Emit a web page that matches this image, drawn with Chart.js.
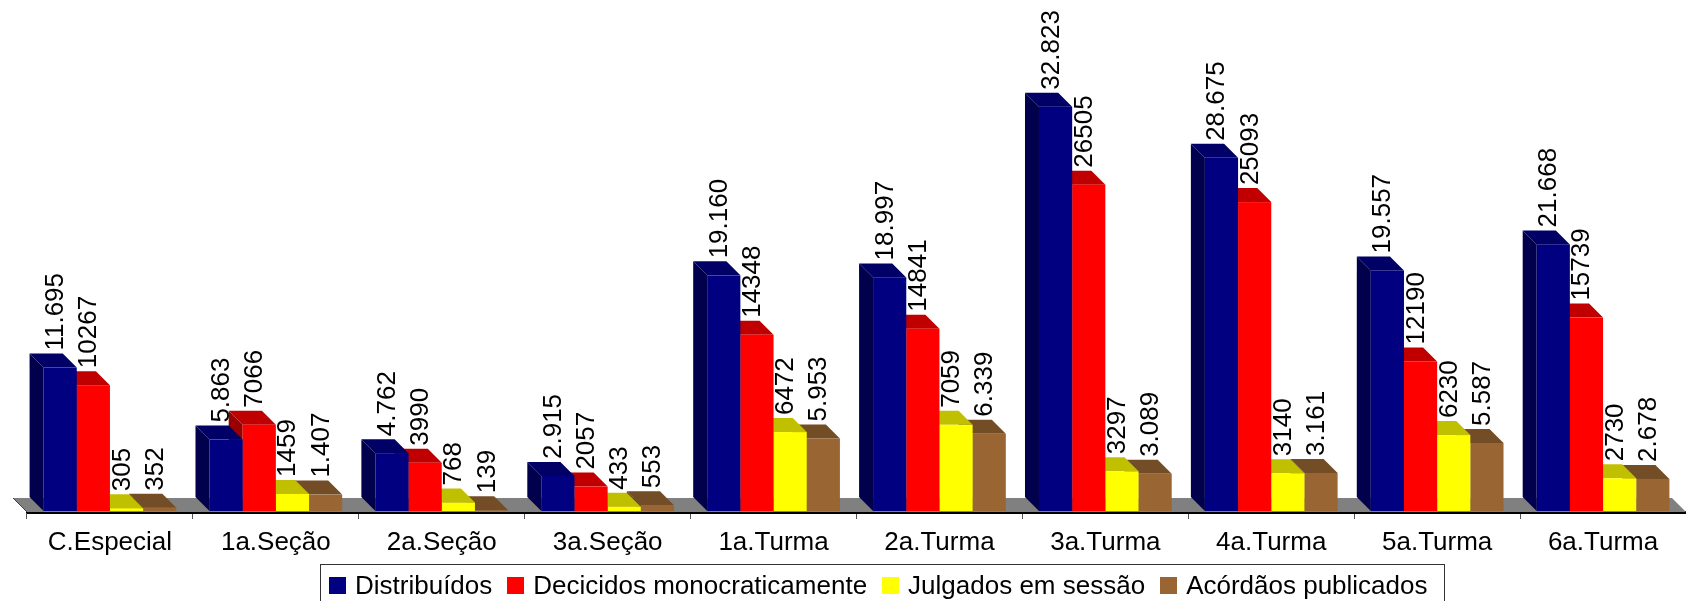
<!DOCTYPE html>
<html>
<head>
<meta charset="utf-8">
<script src="https://cdn.jsdelivr.net/npm/chart.js@4.4.1/dist/chart.umd.min.js"></script>
<style>
    body { margin: 0; background: #fff; }
    #wrap { position: relative; width: 1686px; height: 601px; overflow: hidden; }
    #legend {
        position: absolute; left: 320px; top: 564px; width: 1125px; height: 60px;
        border: 1px solid #333; box-sizing: border-box; padding: 6px 0 0 8px;
        font-family: 'Liberation Sans', Arial, sans-serif; font-size: 26px; line-height: 1.15;
        white-space: nowrap; color: #000;
    }
    #legend .item { margin-right: 15px; }
    #legend .sq { display: inline-block; width: 17px; height: 17px; margin-right: 9px; vertical-align: baseline; }
</style>
</head>
<body>
<div id="wrap">
    <canvas id="chart" width="1686" height="601"></canvas>
    <div id="legend"></div>
</div>
<script>
const categories = ['C.Especial', '1a.Seção', '2a.Seção', '3a.Seção', '1a.Turma', '2a.Turma', '3a.Turma', '4a.Turma', '5a.Turma', '6a.Turma'];
const distribuidos = [11695, 5863, 4762, 2915, 19160, 18997, 32823, 28675, 19557, 21668];
const decididos = [10267, 7066, 3990, 2057, 14348, 14841, 26505, 25093, 12190, 15739];
const julgados = [305, 1459, 768, 433, 6472, 7059, 3297, 3140, 6230, 2730];
const acordaos = [352, 1407, 139, 553, 5953, 6339, 3089, 3161, 5587, 2678];
const seriesNames = ['Distribuídos', 'Decicidos monocraticamente', 'Julgados em sessão', 'Acórdãos publicados'];
// labels of these series were written with a thousands dot in the original
const dottedSeries = [true, false, false, true];

const frontColors = ['#000080', '#FF0000', '#FFFF00', '#996633'];
const topColors = ['#000066', '#C00000', '#C0C000', '#734D26'];
const sideColors = ['#00004D', '#990000', '#999900', '#5C3D1F'];
const fontFamily = "'Liberation Sans', Arial, sans-serif";

function formatValue(v, dotted) {
    const s = String(v);
    return dotted ? s.replace(/\B(?=(\d{3})+(?!\d))/g, '.') : s;
}

// draws the floor, the 3d boxes and the value labels from the bar elements
const bars3d = {
    id: 'bars3d',
    beforeDatasetsDraw(chart) {
        const ctx = chart.ctx;
        const area = chart.chartArea;
        const dx = -14, dy = -14;

        ctx.save();
        ctx.fillStyle = '#808080';
        ctx.beginPath();
        ctx.moveTo(area.left, area.bottom);
        ctx.lineTo(area.left + dx, area.bottom + dy);
        ctx.lineTo(area.right + dx, area.bottom + dy);
        ctx.lineTo(area.right, area.bottom);
        ctx.closePath();
        ctx.fill();
        ctx.strokeStyle = '#404040';
        ctx.lineWidth = 1;
        ctx.beginPath();
        ctx.moveTo(area.left, area.bottom);
        ctx.lineTo(area.left + dx, area.bottom + dy);
        ctx.stroke();

        const nSets = chart.data.datasets.length;
        const nCats = chart.data.labels.length;
        for (let j = nCats - 1; j >= 0; j--) {
            for (let i = nSets - 1; i >= 0; i--) {
                const el = chart.getDatasetMeta(i).data[j];
                const l = el.x - el.width / 2, r = el.x + el.width / 2;
                const t = el.y, b = el.base - 1;

                ctx.fillStyle = sideColors[i];
                ctx.beginPath();
                ctx.moveTo(l, b);
                ctx.lineTo(l + dx, b + dy);
                ctx.lineTo(l + dx, t + dy);
                ctx.lineTo(l, t);
                ctx.closePath();
                ctx.fill();

                ctx.fillStyle = topColors[i];
                ctx.beginPath();
                ctx.moveTo(l, t);
                ctx.lineTo(l + dx, t + dy);
                ctx.lineTo(r + dx, t + dy);
                ctx.lineTo(r, t);
                ctx.closePath();
                ctx.fill();

                ctx.fillStyle = frontColors[i];
                ctx.fillRect(l, t, r - l, b - t);
            }
        }

        // axis line on top of the floor
        ctx.strokeStyle = '#000';
        ctx.lineWidth = 2;
        ctx.beginPath();
        ctx.moveTo(area.left, area.bottom + 1);
        ctx.lineTo(area.right, area.bottom + 1);
        ctx.stroke();

        // value labels, rotated
        ctx.fillStyle = '#000';
        ctx.font = '26px ' + fontFamily;
        ctx.textAlign = 'left';
        ctx.textBaseline = 'alphabetic';
        for (let i = 0; i < nSets; i++) {
            const ds = chart.data.datasets[i];
            chart.getDatasetMeta(i).data.forEach((el, j) => {
                const cx = el.x - 6;
                ctx.save();
                ctx.translate(cx + 9, el.y + dy - 3);
                ctx.rotate(-Math.PI / 2);
                ctx.fillText(formatValue(ds.data[j], dottedSeries[i]), 0, 0);
                ctx.restore();
            });
        }
        ctx.restore();
        return false;
    }
};

const seriesData = [distribuidos, decididos, julgados, acordaos];

const chart = new Chart(document.getElementById('chart'), {
    type: 'bar',
    data: {
        labels: categories,
        datasets: seriesData.map((values, i) => ({
            label: seriesNames[i],
            data: values,
            backgroundColor: frontColors[i],
            categoryPercentage: 0.8,
            barPercentage: 1.0
        }))
    },
    options: {
        responsive: false,
        animation: false,
        layout: { padding: { left: 27, right: -4, top: 18, bottom: 0 } },
        plugins: {
            legend: { display: false },
            tooltip: { enabled: false }
        },
        scales: {
            x: {
                afterFit(scale) { scale.height = 89; },
                grid: { offset: true, drawOnChartArea: false, tickLength: 7, color: '#555', lineWidth: 1 },
                border: { color: '#000', width: 2 },
                ticks: { color: '#000', font: { family: fontFamily, size: 26 }, padding: 8, maxRotation: 0, autoSkip: false }
            },
            y: { display: false, min: 0, max: 40000 }
        }
    },
    plugins: [bars3d]
});

// html legend
const legend = document.getElementById('legend');
seriesNames.forEach((name, i) => {
    const item = document.createElement('span');
    item.className = 'item';
    item.innerHTML = `<span class="sq" style="background:${frontColors[i]}"></span>${name}`;
    legend.appendChild(item);
});
</script>
</body>
</html>
